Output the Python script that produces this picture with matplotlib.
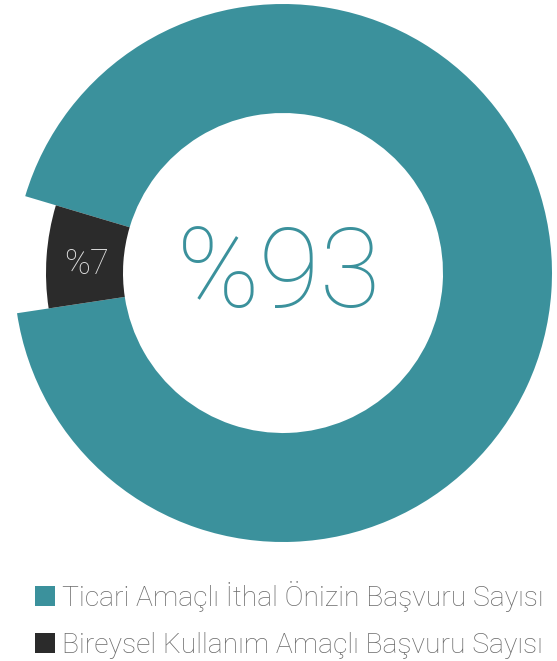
import matplotlib
matplotlib.use("Agg")
import matplotlib.pyplot as plt

labels = ["Ticari Amaçlı İthal Önizin Başvuru Sayısı", "Bireysel Kullanım Amaçlı Başvuru Sayısı"]
values = [93, 7]
pct_labels = ["%93", "%7"]
colors = ["#3b919c", "#2b2b2b"]

W, H = 557, 661
fig = plt.figure(figsize=(W / 100, H / 100), dpi=100)
ax = fig.add_axes([0, 0, 1, 1])
ax.set_xlim(0, W)
ax.set_ylim(0, H)
ax.set_aspect("equal")
ax.axis("off")

cx, cy = 283, H - 273
r_out = 269
r_in = 160
r_dark = 237

wedges, _ = ax.pie(values, colors=colors, startangle=188.6, counterclock=True,
                   center=(cx, cy), radius=r_out,
                   wedgeprops=dict(width=r_out - r_in, linewidth=0))
wedges[1].set_radius(r_dark)
wedges[1].set_width(r_dark - r_in)
ax.set_xlim(0, W)
ax.set_ylim(0, H)

fam = "Roboto"
ax.text(cx - 4, cy - 4, pct_labels[0], ha="center", va="center", fontsize=80,
        family=fam, fontweight="light", color=colors[0])
ax.text(87, H - 264, pct_labels[1], ha="center", va="center", fontsize=25,
        family=fam, fontweight="light", color="#e0e0e0")

leg = ax.legend(wedges, labels, loc="upper left", bbox_to_anchor=(35 / W, 1 - 581 / H),
                bbox_transform=fig.transFigure, frameon=False,
                prop=dict(family=fam, weight="light", size=20.3),
                labelcolor="#6b6b6b", handlelength=0.72, handleheight=0.72,
                handletextpad=0.25, labelspacing=0.72, borderpad=0, borderaxespad=0)
for h in leg.legend_handles:
    h.set_linewidth(0)

fig.savefig("out.png", dpi=100)
